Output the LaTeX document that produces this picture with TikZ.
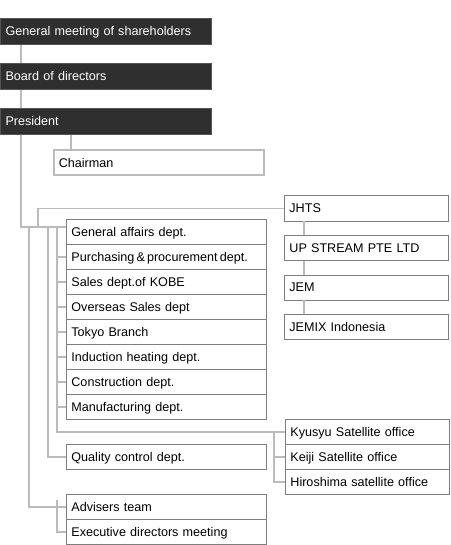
\documentclass[tikz,border=0pt]{standalone}
\usepackage{fontspec}
\setmainfont{Liberation Sans}
\definecolor{darkfill}{HTML}{2F2F2F}
\definecolor{darkline}{HTML}{555555}
\definecolor{connc}{HTML}{BBBBBB}
\definecolor{boxline}{HTML}{7E7E7E}
\begin{document}
\begin{tikzpicture}[x=1pt,y=-1pt,
  every node/.style={font=\fontsize{12.6pt}{14pt}\selectfont, inner xsep=5pt, inner ysep=0pt,
    text height=10.5pt, text depth=1.5pt, align=left, anchor=north west},
  darkbox/.style={fill=darkfill, draw=darkline, line width=1pt, text=white,
    minimum height=26pt, text width=201pt},
  chairbox/.style={fill=white, draw=connc, line width=1.6pt,
    minimum height=25.5pt, text width=200pt},
  deptbox/.style={fill=white, draw=boxline, line width=0.8pt,
    minimum height=25pt, text width=190pt},
  subbox/.style={fill=white, draw=boxline, line width=0.8pt,
    minimum height=25pt, text width=154pt},
  conn/.style={draw=connc, line width=1.5pt}]
\useasboundingbox (0,0) rectangle (450,545);
\fill[white] (0,0) rectangle (450,545);

% top chain
\node[darkbox] (gm) at (0,18) {General meeting of shareholders};
\node[darkbox] (bod) at (0,63) {Board of directors};
\node[darkbox] (pres) at (0,108) {President};
\node[chairbox] (chair) at (53,149) {Chairman};

% departments
\node[deptbox] (d1) at (66,219) {General affairs dept.};
\node[deptbox] (d2) at (66,244) {Purchasing\,\&\,procurement\,dept.};
\node[deptbox] (d3) at (66,269) {Sales dept.of KOBE};
\node[deptbox] (d4) at (66,294) {Overseas Sales dept};
\node[deptbox] (d5) at (66,319) {Tokyo Branch};
\node[deptbox] (d6) at (66,344) {Induction heating dept.};
\node[deptbox] (d7) at (66,369) {Construction dept.};
\node[deptbox] (d8) at (66,394) {Manufacturing dept.};
\node[deptbox] (q) at (66,444) {Quality control dept.};
\node[deptbox] (adv) at (66,494) {Advisers team};
\node[deptbox] (exe) at (66,519) {Executive directors meeting};

% subsidiaries
\node[subbox] (j1) at (284,195.5) {JHTS};
\node[subbox] (j2) at (284,235) {UP STREAM PTE LTD};
\node[subbox] (j3) at (284,274.5) {JEM};
\node[subbox] (j4) at (284,314) {JEMIX Indonesia};

% satellite offices
\node[subbox] (s1) at (285,419) {Kyusyu Satellite office};
\node[subbox] (s2) at (285,444) {Keiji Satellite office};
\node[subbox] (s3) at (285,469) {Hiroshima satellite office};

% junction coordinates
\coordinate (jx) at (38,227);
\coordinate (dx) at (57,227);
\coordinate (qx) at (48,227);
\coordinate (ax) at (29,227);
\coordinate (ex) at (57,500);
\coordinate (sx) at (274,431.5);

% connectors
\draw[conn] ([xshift=21pt]gm.south west) -- ([xshift=21pt]bod.north west);
\draw[conn] ([xshift=21pt]bod.south west) -- ([xshift=21pt]pres.north west);
\draw[conn] ([xshift=21pt]pres.south west) |- ([yshift=-8pt]d1.north west);
\draw[conn] ([xshift=71pt]pres.south west) -- ([xshift=18pt]chair.north west);
\draw[conn] (jx) |- (j1.west);
\draw[conn] (dx) |- (s1.west);
\foreach \i in {2,...,8} \draw[conn] (dx |- d\i.west) -- (d\i.west);
\draw[conn] (qx) |- (q.west);
\draw[conn] (ax) |- (adv.west);
\draw[conn] (ex) |- (exe.west);
\draw[conn] (sx) |- (s3.west);
\draw[conn] (sx |- s2.west) -- (s2.west);
\draw[conn] ([xshift=20pt]j1.south west) -- ([xshift=20pt]j2.north west);
\draw[conn] ([xshift=20pt]j2.south west) -- ([xshift=20pt]j3.north west);
\draw[conn] ([xshift=20pt]j3.south west) -- ([xshift=20pt]j4.north west);
\end{tikzpicture}
\end{document}
